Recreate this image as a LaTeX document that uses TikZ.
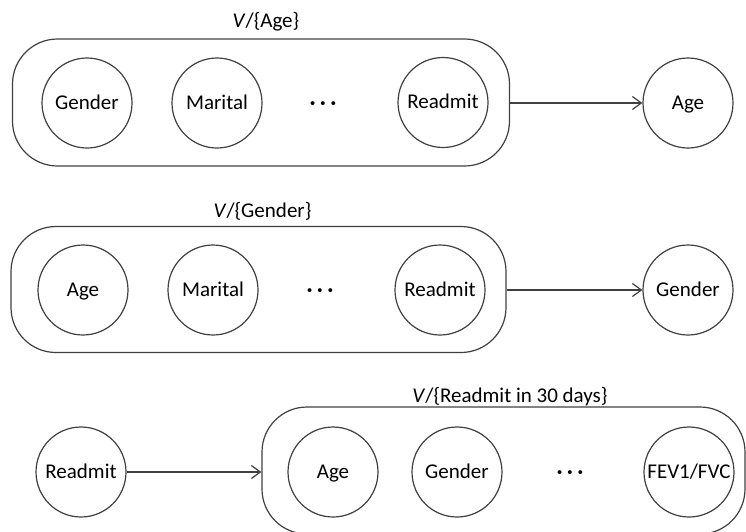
\documentclass[tikz,border=0pt]{standalone}
\usepackage{fontspec}
\setmainfont{Carlito}
\usetikzlibrary{arrows.meta}
\definecolor{linegray}{HTML}{404040}
\tikzset{
  txt/.style={font=\fontsize{21}{24}\selectfont, text height=15pt, text depth=3pt},
  var/.style={txt, circle, draw=linegray, line width=1.2pt, minimum size=90pt, inner sep=0pt},
  setbox/.style={rectangle, draw=linegray, line width=1.2pt, rounded corners=45pt, inner sep=0pt},
  setlabel/.style={txt, inner sep=0pt},
  dotsnode/.style={txt, font=\fontsize{21}{24}\selectfont\bfseries, inner sep=0pt},
  link/.style={draw=linegray, line width=1.2pt, -{Straight Barb[length=9pt, width=13pt, line width=1.2pt]}}
}
\begin{document}
\begin{tikzpicture}[x=1pt, y=-1pt]
\useasboundingbox (0,0) rectangle (746,531);
\clip (0,0) rectangle (746,531);

% first set: everything except Age
\node[setbox, minimum width=497pt, minimum height=127pt] (box1) at (261,102.5) {};
\node[setlabel] (lab1) at (266,21) {\textit{V}/\{Age\}};
\node[var] (g1) at (87,103) {Gender};
\node[var] (m1) at (217,103) {Marital};
\node[dotsnode] (d1) at (323,103) {· · ·};
\node[var] (r1) at (443,102.5) {Readmit};
\node[var] (t1) at (688,103) {Age};
\draw[link] (box1.east |- t1) -- (t1.west);

% second set: everything except Gender
\node[setbox, minimum width=495pt, minimum height=126pt] (box2) at (258.5,289.5) {};
\node[setlabel] (lab2) at (262.5,211) {\textit{V}/\{Gender\}};
\node[var] (a2) at (83,290) {Age};
\node[var] (m2) at (213,290) {Marital};
\node[dotsnode] (d2) at (320,290) {· · ·};
\node[var] (r2) at (440,290) {Readmit};
\node[var] (t2) at (688,290) {Gender};
\draw[link] (box2.east |- t2) -- (t2.west);

% third set: everything except the readmission target
\node[setbox, minimum width=483pt, minimum height=127pt] (box3) at (503.5,470.5) {};
\node[setlabel] (lab3) at (510,396) {\textit{V}/\{Readmit in 30 days\}};
\node[var] (r3) at (81,472) {Readmit};
\node[var] (a3) at (333,472) {Age};
\node[var] (g3) at (457,472) {Gender};
\node[dotsnode] (d3) at (570,472) {· · ·};
\node[var] (f3) at (689,472) {FEV1/FVC};
\draw[link] (r3.east) -- (box3.west |- r3);
\end{tikzpicture}
\end{document}
